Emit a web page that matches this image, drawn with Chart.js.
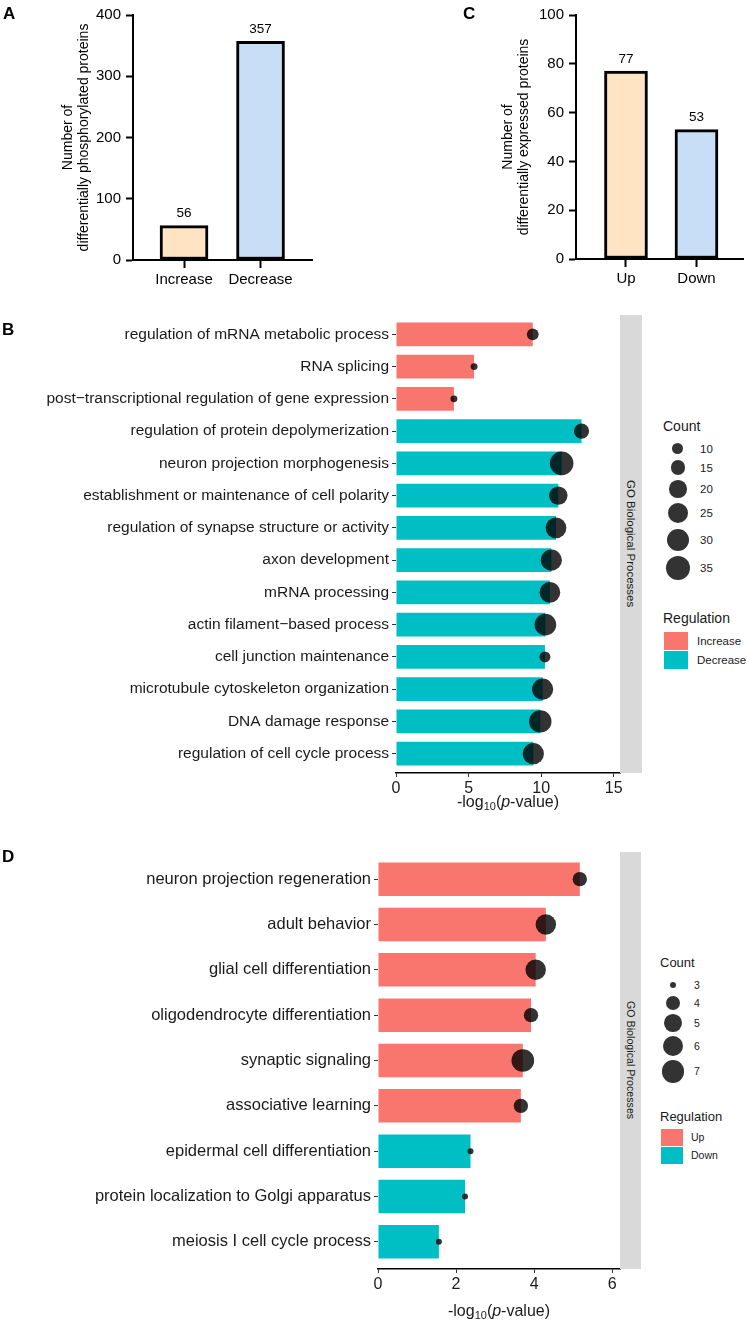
<!DOCTYPE html>
<html>
<head>
<meta charset="utf-8">
<script src="https://cdn.jsdelivr.net/npm/chart.js@4.4.0/dist/chart.umd.min.js"></script>
<style>
  body { margin: 0; background: #fff; font-family: "Liberation Sans", Arial, sans-serif; color: #1a1a1a; }
  #page { position: relative; width: 748px; height: 1322px; overflow: hidden; }
  .box { position: absolute; }
  .letter { position: absolute; font-weight: bold; font-size: 17px; color: #000; line-height: 1; }
  .strip { position: absolute; background: #d9d9d9; z-index: 2; display: flex; align-items: center; justify-content: center; }
  .strip span { writing-mode: vertical-rl; white-space: nowrap; color: #1a1a1a; }
  .lg { position: absolute; z-index: 2; white-space: nowrap; }
</style>
</head>
<body>
<div id="page">
  <div class="box" style="left:0;top:0;width:374px;height:300px"><canvas id="chartA" width="374" height="300"></canvas></div>
  <div class="box" style="left:374px;top:0;width:374px;height:300px"><canvas id="chartC" width="374" height="300"></canvas></div>
  <div class="box" style="left:0;top:300px;width:660px;height:520px"><canvas id="chartB" width="660" height="520"></canvas></div>
  <div class="box" style="left:0;top:830px;width:660px;height:492px"><canvas id="chartD" width="660" height="492"></canvas></div>

  <div class="letter" style="left:3px;top:5px">A</div>
  <div class="letter" style="left:463px;top:5px">C</div>
  <div class="letter" style="left:2px;top:321px">B</div>
  <div class="letter" style="left:2px;top:848px">D</div>

  <div class="strip" style="left:620px;top:315px;width:22px;height:458px"><span style="font-size:11.5px">GO Biological Processes</span></div>
  <div class="strip" style="left:620px;top:852px;width:21px;height:417px"><span style="font-size:10.7px">GO Biological Processes</span></div>
  <div id="legendB"></div>
  <div id="legendD"></div>
</div>

<script>
// panel A
const catsA = ['Increase', 'Decrease'];
const valsA = [56, 357];
const ticksA = [0, 100, 200, 300, 400];

// panel C
const catsC = ['Up', 'Down'];
const valsC = [77, 53];
const ticksC = [0, 20, 40, 60, 80, 100];

// panel B
const termsB = [
  'regulation of mRNA metabolic process',
  'RNA splicing',
  'post\u2212transcriptional regulation of gene expression',
  'regulation of protein depolymerization',
  'neuron projection morphogenesis',
  'establishment or maintenance of cell polarity',
  'regulation of synapse structure or activity',
  'axon development',
  'mRNA processing',
  'actin filament\u2212based process',
  'cell junction maintenance',
  'microtubule cytoskeleton organization',
  'DNA damage response',
  'regulation of cell cycle process'
];
const pvalB = [9.42, 5.38, 3.99, 12.78, 11.41, 11.18, 11.02, 10.70, 10.60, 10.29, 10.26, 10.10, 9.94, 9.46];
const countB = [11, 6, 6, 16, 34, 22, 27, 28, 27, 29, 10, 28, 31, 28];
const groupB = ['Increase', 'Increase', 'Increase', 'Decrease', 'Decrease', 'Decrease', 'Decrease',
                'Decrease', 'Decrease', 'Decrease', 'Decrease', 'Decrease', 'Decrease', 'Decrease'];
const ticksB = [0, 5, 10, 15];
const countKeysB = [10, 15, 20, 25, 30, 35];
const regKeysB = ['Increase', 'Decrease'];

// panel D
const termsD = [
  'neuron projection regeneration',
  'adult behavior',
  'glial cell differentiation',
  'oligodendrocyte differentiation',
  'synaptic signaling',
  'associative learning',
  'epidermal cell differentiation',
  'protein localization to Golgi apparatus',
  'meiosis I cell cycle process'
];
const pvalD = [5.17, 4.30, 4.04, 3.92, 3.71, 3.66, 2.37, 2.23, 1.56];
const countD = [4, 6, 6, 4, 7, 4, 3, 3, 3];
const groupD = ['Up', 'Up', 'Up', 'Up', 'Up', 'Up', 'Down', 'Down', 'Down'];
const ticksD = [0, 2, 4, 6];
const countKeysD = [3, 4, 5, 6, 7];
const regKeysD = ['Up', 'Down'];

const FONT = '"Liberation Sans", Arial, sans-serif';
const peach = '#FFE4C4', lightBlue = '#C8DDF6';
const regColors = { Increase: '#F8766D', Up: '#F8766D', Decrease: '#00BFC4', Down: '#00BFC4' };
const dotColor = 'rgba(0,0,0,0.8)';

// point size scales (diameter in px)
const sizeB = c => Math.sqrt(18.2 * (c - 3.35));
const sizeD = c => 6 + 16.7 * Math.sqrt((c - 3) / 4);

Chart.defaults.font.family = FONT;

const valueLabels = {
  id: 'valueLabels',
  afterDatasetsDraw(chart) {
    const ctx = chart.ctx;
    const meta = chart.getDatasetMeta(0);
    ctx.save();
    ctx.font = '13.5px ' + FONT;
    ctx.fillStyle = '#000';
    ctx.textAlign = 'center';
    ctx.textBaseline = 'middle';
    meta.data.forEach((bar, i) => {
      ctx.fillText(String(chart.data.datasets[0].data[i].y), bar.x, bar.y - 12);
    });
    ctx.restore();
  }
};

// -log10(p-value) with subscript and italic p
const logTitle = {
  id: 'logTitle',
  afterDraw(chart, args, opts) {
    const ctx = chart.ctx;
    const parts = [
      { t: '-log', f: '16px ' + FONT, dy: 0 },
      { t: '10', f: '11px ' + FONT, dy: 4 },
      { t: '(', f: '16px ' + FONT, dy: 0 },
      { t: 'p', f: 'italic 16px ' + FONT, dy: 0 },
      { t: '-value)', f: '16px ' + FONT, dy: 0 }
    ];
    ctx.save();
    ctx.fillStyle = '#1a1a1a';
    ctx.textBaseline = 'middle';
    ctx.textAlign = 'left';
    let w = 0;
    parts.forEach(p => { ctx.font = p.f; p.w = ctx.measureText(p.t).width; w += p.w; });
    let x = (chart.chartArea.left + chart.chartArea.right) / 2 - w / 2;
    parts.forEach(p => { ctx.font = p.f; ctx.fillText(p.t, x, opts.y + p.dy); x += p.w; });
    ctx.restore();
  }
};

function prismBar(id, cats, vals, ticks, title, xRange, barW, pad, yAxisW) {
  new Chart(document.getElementById(id), {
    type: 'bar',
    data: {
      datasets: [{
        data: cats.map((c, i) => ({ x: i + 1, y: vals[i] })),
        backgroundColor: [peach, lightBlue],
        borderColor: '#000',
        borderWidth: 3,
        borderSkipped: false,
        barThickness: barW
      }]
    },
    options: {
      responsive: false,
      animation: false,
      events: [],
      layout: { padding: pad },
      plugins: { legend: { display: false }, tooltip: { enabled: false } },
      scales: {
        x: {
          type: 'linear', min: xRange[0], max: xRange[1], offset: false,
          afterBuildTicks: s => { s.ticks = cats.map((c, i) => ({ value: i + 1 })); },
          afterFit: s => { s.height = 40; },
          ticks: { callback: v => cats[v - 1], color: '#000', font: { size: 15 }, padding: 3, maxRotation: 0 },
          grid: { drawOnChartArea: false, drawTicks: true, tickLength: 8, tickWidth: 2, tickColor: '#000', offset: false },
          border: { color: '#000', width: 2 }
        },
        y: {
          min: ticks[0], max: ticks[ticks.length - 1],
          afterBuildTicks: s => { s.ticks = ticks.map(v => ({ value: v })); },
          afterFit: s => { s.width = yAxisW; },
          ticks: { color: '#000', font: { size: 15 }, padding: 5 },
          grid: { drawOnChartArea: false, drawTicks: true, tickLength: 7, tickWidth: 2, tickColor: '#000' },
          border: { color: '#000', width: 2 },
          title: { display: true, text: title, color: '#000', font: { size: 14, lineHeight: 1.15 }, padding: 0 }
        }
      }
    },
    plugins: [valueLabels]
  });
}

prismBar('chartA', catsA, valsA, ticksA, ['Number of', 'differentially phosphorylated proteins'],
  [0.333, 2.673], 48, { left: 60, top: 15, right: 62, bottom: 0 }, 73);
prismBar('chartC', catsC, valsC, ticksC, ['Number of', 'differentially expressed proteins'],
  [0.291, 2.66], 43, { left: 126, top: 15, right: 5, bottom: 1 }, 76);

function goChart(id, terms, pvals, counts, groups, ticks, xMax, sizeFn, o) {
  const pts = terms.map((t, i) => ({ x: pvals[i], y: i }));
  new Chart(document.getElementById(id), {
    type: 'bar',
    data: {
      datasets: [
        {
          type: 'scatter',
          data: pts,
          pointRadius: c => sizeFn(counts[c.dataIndex]) / 2,
          pointBackgroundColor: dotColor,
          pointBorderWidth: 0,
          order: 1
        },
        {
          type: 'bar',
          data: pts,
          backgroundColor: groups.map(g => regColors[g]),
          categoryPercentage: 1,
          barPercentage: 0.74,
          order: 2
        }
      ]
    },
    options: {
      indexAxis: 'y',
      responsive: false,
      animation: false,
      events: [],
      layout: { padding: { left: 0, top: o.top, right: 40, bottom: 0 } },
      plugins: { legend: { display: false }, tooltip: { enabled: false }, logTitle: { y: o.titleY } },
      scales: {
        x: {
          type: 'linear', min: 0, max: xMax, offset: false,
          afterBuildTicks: s => { s.ticks = ticks.map(v => ({ value: v })); },
          afterFit: s => { s.height = o.xAxisH; },
          ticks: { color: '#1a1a1a', font: { size: 16 }, padding: 2, maxRotation: 0 },
          grid: { drawOnChartArea: false, drawTicks: true, tickLength: 4, tickColor: '#333', offset: false },
          border: { color: '#000', width: 1.5 }
        },
        y: {
          type: 'linear', min: -0.6, max: terms.length - 0.4, reverse: true, offset: false,
          afterBuildTicks: s => { s.ticks = terms.map((t, i) => ({ value: i })); },
          afterFit: s => { s.width = o.yAxisW; },
          ticks: { callback: v => terms[v], color: '#1a1a1a', font: { size: o.labelSize }, padding: 3 },
          grid: { drawOnChartArea: false, drawTicks: true, tickLength: 4, tickColor: '#333', offset: false },
          border: { display: false }
        }
      }
    },
    plugins: [logTitle]
  });
}

goChart('chartB', termsB, pvalB, countB, groupB, ticksB, 15.43, sizeB,
  { top: 15, xAxisH: 47, yAxisW: 396, labelSize: 15.5, titleY: 503 });
goChart('chartD', termsD, pvalD, countD, groupD, ticksD, 6.2, sizeD,
  { top: 22, xAxisH: 53, yAxisW: 378, labelSize: 16.5, titleY: 482 });

// ggplot-style side legends
function buildLegend(hostId, o) {
  const host = document.getElementById(hostId);
  let html = '';
  html += `<div class="lg" style="left:${o.left}px;top:${o.countTitleY - 9}px;font-size:${o.titleSize}px;line-height:18px">Count</div>`;
  let y = o.firstKeyY - Math.max(17, o.sizeFn(o.counts[0]) + o.keyPad) / 2;
  o.counts.forEach(c => {
    const d = o.sizeFn(c);
    const h = Math.max(17, d + o.keyPad);
    const cy = y + h / 2;
    html += `<div class="lg" style="left:${o.circleX - d / 2}px;top:${cy - d / 2}px;width:${d}px;height:${d}px;border-radius:50%;background:${dotColor}"></div>`;
    html += `<div class="lg" style="left:${o.labelX}px;top:${cy - 8}px;font-size:${o.labelSize}px;line-height:16px">${c}</div>`;
    y += h;
  });
  html += `<div class="lg" style="left:${o.left}px;top:${o.regTitleY - 9}px;font-size:${o.titleSize}px;line-height:18px">Regulation</div>`;
  o.regs.forEach((r, i) => {
    const top = o.boxTop + i * o.boxStep;
    html += `<div class="lg" style="left:${o.boxLeft}px;top:${top}px;width:${o.boxW}px;height:${o.boxH}px;background:${regColors[r]}"></div>`;
    html += `<div class="lg" style="left:${o.regLabelX}px;top:${top + o.boxH / 2 - 8}px;font-size:${o.labelSize}px;line-height:16px">${r}</div>`;
  });
  host.innerHTML = html;
}

buildLegend('legendB', {
  left: 663, countTitleY: 426, titleSize: 14, firstKeyY: 449, counts: countKeysB, sizeFn: sizeB, keyPad: 5.5,
  circleX: 678, labelX: 700, labelSize: 11.5, regTitleY: 618, regs: regKeysB,
  boxLeft: 664, boxTop: 632, boxStep: 19, boxW: 24, boxH: 17.5, regLabelX: 697
});
buildLegend('legendD', {
  left: 660, countTitleY: 963, titleSize: 13, firstKeyY: 985, counts: countKeysD, sizeFn: sizeD, keyPad: 4,
  circleX: 673, labelX: 694, labelSize: 10.5, regTitleY: 1117, regs: regKeysD,
  boxLeft: 661, boxTop: 1129, boxStep: 18, boxW: 22, boxH: 16.5, regLabelX: 691
});
</script>
</body>
</html>
